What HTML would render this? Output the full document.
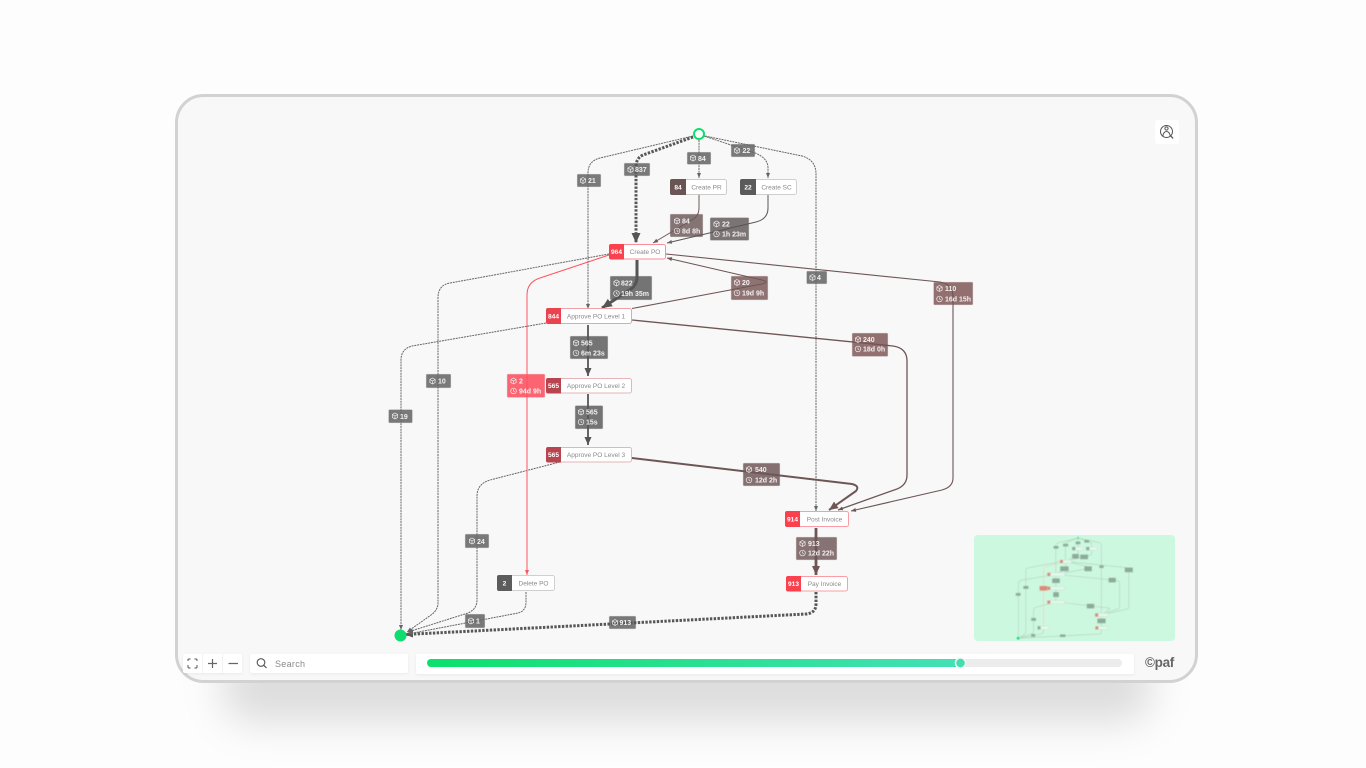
<!DOCTYPE html>
<html lang="en"><head><meta charset="utf-8"><title>Process map</title>
<style>
html,body{margin:0;padding:0;width:1366px;height:768px;overflow:hidden;background:#fdfdfd}
svg{display:block;font-family:"Liberation Sans",sans-serif}
.e{fill:none;stroke-linejoin:round}
.d{stroke:#666;stroke-width:1;stroke-dasharray:2 .8}
.t{stroke:#575757;stroke-width:3;stroke-dasharray:2.4 1.4}
.b{stroke:#6f5656}
.n{font-size:6.500px;fill:#8a8a8a;text-anchor:middle}
.c{font-size:6.600px;font-weight:bold;fill:#fff;text-anchor:middle}
.l{font-size:7px;font-weight:bold;fill:#f4f0f0}
.ic{fill:none;stroke:#f2eeee;stroke-width:.7}
.m path{fill:none;stroke:#b4d6c1;stroke-width:3.500}
</style></head><body>
<svg width="1366" height="768" viewBox="0 0 1366 768" xmlns="http://www.w3.org/2000/svg">
<defs>
<filter id="sh" x="-20%" y="-100%" width="140%" height="300%"><feGaussianBlur stdDeviation="20"/></filter>
<filter id="mb" x="-5%" y="-5%" width="110%" height="110%"><feGaussianBlur stdDeviation=".5"/></filter>
<filter id="ws" x="-20%" y="-50%" width="140%" height="200%"><feDropShadow dx="0" dy="1" stdDeviation="1.500" flood-color="#000" flood-opacity=".06"/></filter>
<linearGradient id="gr" x1="0" x2="1" y1="0" y2="0"><stop offset="0" stop-color="#0ce06c"/><stop offset="1" stop-color="#44e0b6"/></linearGradient>
<marker id="ga" markerUnits="userSpaceOnUse" markerWidth="5" markerHeight="5" viewBox="0 0 5 5" refX="5" refY="2.500" orient="auto"><path d="M0 .5L5 2.500L0 4.500z" fill="#666"/></marker>
<marker id="gb" markerUnits="userSpaceOnUse" markerWidth="10" markerHeight="10" viewBox="0 0 10 10" refX="10" refY="5" orient="auto"><path d="M0 .5L10 5L0 9.500z" fill="#555"/></marker>
<marker id="gm" markerUnits="userSpaceOnUse" markerWidth="8" markerHeight="8" viewBox="0 0 8 8" refX="8" refY="4" orient="auto"><path d="M0 .5L8 4L0 7.500z" fill="#555"/></marker>
<marker id="bs" markerUnits="userSpaceOnUse" markerWidth="5" markerHeight="5" viewBox="0 0 5 5" refX="5" refY="2.500" orient="auto"><path d="M0 .5L5 2.500L0 4.500z" fill="#6f5656"/></marker>
<marker id="bb" markerUnits="userSpaceOnUse" markerWidth="9" markerHeight="9" viewBox="0 0 9 9" refX="9" refY="4.500" orient="auto"><path d="M0 .5L9 4.500L0 8.500z" fill="#6f5656"/></marker>
<marker id="rd" markerUnits="userSpaceOnUse" markerWidth="5" markerHeight="5" viewBox="0 0 5 5" refX="5" refY="2.500" orient="auto"><path d="M0 .5L5 2.500L0 4.500z" fill="#fb5561"/></marker>
<g id="cu" class="ic"><path d="M0-3L2.600-1.500V1.500L0 3L-2.600 1.500V-1.500z"/><path d="M-2.600-1.500L0 0L2.600-1.500M0 0V3"/></g>
<g id="cl" class="ic"><circle r="2.800"/><path d="M0-1.600V0L1.200 .8"/></g>
</defs>

<!-- drop shadow -->
<rect x="222" y="650" width="930" height="72" rx="30" fill="#000" fill-opacity=".13" filter="url(#sh)"/>
<!-- frame -->
<rect x="176.500" y="95.500" width="1020" height="586" rx="27" fill="#f8f8f8" stroke="#d2d2d2" stroke-width="3"/>

<!-- label backgrounds -->
<g fill="#727272" fill-opacity=".95" stroke="#e4e4e4" stroke-width=".5">
<rect x="577" y="174" width="24" height="13" rx="1"/><rect x="624" y="163" width="26" height="13" rx="1"/>
<rect x="687" y="152" width="24" height="12.500" rx="1"/><rect x="731" y="144" width="24" height="13" rx="1"/>
<rect x="806.500" y="271" width="20.500" height="13" rx="1"/><rect x="426" y="374" width="25" height="14" rx="1"/>
<rect x="388.500" y="409.500" width="24" height="13.500" rx="1"/><rect x="465" y="534" width="24" height="14" rx="1"/>
<rect x="465" y="614" width="20" height="14" rx="1"/><rect x="609" y="616" width="27" height="13" rx="1"/>
</g>
<g stroke="#e4e0e0" stroke-width=".5">
<rect x="670" y="214" width="33" height="23" rx="1" fill="#847474"/>
<rect x="710" y="217.500" width="39" height="23" rx="1" fill="#7a7474"/>
<rect x="610" y="276" width="42" height="24" rx="1" fill="#747474"/>
<rect x="731" y="276" width="37" height="24" rx="1" fill="#8f7373"/>
<rect x="933.500" y="282" width="39.500" height="23" rx="1" fill="#927070"/>
<rect x="852" y="333" width="36" height="23.500" rx="1" fill="#927070"/>
<rect x="570" y="336" width="38" height="23" rx="1" fill="#747474"/>
<rect x="507" y="374" width="38" height="23.500" rx="1" fill="#fb6470"/>
<rect x="575" y="405.500" width="28" height="23.500" rx="1" fill="#747474"/>
<rect x="743" y="463" width="37" height="23" rx="1" fill="#847070"/>
<rect x="796" y="537" width="41" height="23" rx="1" fill="#877373"/>
</g>

<!-- edges -->
<g>
<path class="e d" marker-end="url(#ga)" d="M693 136L600 158Q588 161 588 173V309"/>
<path class="e t" marker-end="url(#gb)" d="M693 137L643 155Q636 158 636 167V243"/>
<path class="e d" marker-end="url(#ga)" d="M699 140V178"/>
<path class="e d" marker-end="url(#ga)" d="M704 136L755 153Q768 158 768 168V178"/>
<path class="e d" marker-end="url(#ga)" d="M705 136L802 156Q816 160 816 174V511"/>
<path class="e b" stroke-width="1" marker-end="url(#bs)" d="M699 195V208Q699 217 690 221L653 243"/>
<path class="e" stroke="#5c5555" stroke-width="1" marker-end="url(#ga)" d="M768 195V208Q768 219 756 222L667 243"/>
<path class="e" stroke="#555" stroke-width="3" marker-end="url(#gb)" d="M637 260V277Q637 286 628 291L602 308"/>
<path class="e b" stroke-width="1" marker-end="url(#bs)" d="M632 308.500L762 284Q770 282 762 280L667 258"/>
<path class="e b" stroke-width="1.100" marker-end="url(#bs)" d="M666 254L940 282Q953 284 953 297V478Q953 487 942 490L851 511"/>
<path class="e b" stroke-width="1.300" marker-end="url(#bs)" d="M632 320L893 346Q907 348 907 361V475Q907 485 897 489L838 510"/>
<path class="e b" stroke-width="2" marker-end="url(#bb)" d="M632 458L852 484Q860 486 856 491L829 510"/>
<path class="e b" stroke-width="2.800" marker-end="url(#bb)" d="M816 528V575"/>
<path class="e t" marker-end="url(#gm)" d="M816 592V604Q816 613 806 614L405 634.500"/>
<path class="e d" marker-end="url(#ga)" d="M609 254L450 283Q438 285 438 298V603Q438 610 431 615L407 632"/>
<path class="e d" marker-end="url(#ga)" d="M546 323L412 346Q401 349 401 360V630"/>
<path class="e d" stroke-width=".9" marker-end="url(#ga)" d="M560 462L490 480Q477 484 477 496V600Q477 609 468 613L408 632"/>
<path class="e d" stroke-width=".9" marker-end="url(#ga)" d="M526 592V602Q526 611 518 613L408 634"/>
<path class="e" stroke="#fb5561" stroke-width="1" marker-end="url(#rd)" d="M609 255L540 278Q527 282 527 295V575"/>
<path class="e" stroke="#555" stroke-width="1.800" marker-end="url(#gm)" d="M588 325V376"/>
<path class="e" stroke="#555" stroke-width="1.800" marker-end="url(#gm)" d="M588 394V445"/>
</g>

<!-- start / end -->
<circle cx="699" cy="134" r="5" fill="#fff" stroke="#0ce06c" stroke-width="2"/>
<circle cx="400.500" cy="635.500" r="6" fill="#0fdd70"/>

<!-- nodes -->
<rect x="670.500" y="179.500" width="56" height="15" rx="2" fill="#fff" stroke="#cfcaca"/><path d="M672 179h14v16h-14a2 2 0 0 1-2-2v-12a2 2 0 0 1 2-2z" fill="#6a5555"/><text class="c" x="678" y="189.500">84</text><text class="n" x="706.500" y="189.500">Create PR</text>
<rect x="740.500" y="179.500" width="56" height="15" rx="2" fill="#fff" stroke="#cfcfcf"/><path d="M742 179h14v16h-14a2 2 0 0 1-2-2v-12a2 2 0 0 1 2-2z" fill="#5b5b5b"/><text class="c" x="748" y="189.500">22</text><text class="n" x="776.500" y="189.500">Create SC</text>
<rect x="609.500" y="244.500" width="56" height="14.500" rx="2" fill="#fff" stroke="#fb8f98"/><path d="M611 244h13v15.500h-13a2 2 0 0 1-2-2v-11.500a2 2 0 0 1 2-2z" fill="#fb404e"/><text class="c" x="616.500" y="254">964</text><text class="n" x="645" y="254">Create PO</text>
<rect x="546.500" y="308.500" width="85" height="15" rx="2" fill="#fff" stroke="#f0a0a6"/><path d="M548 308h13v16h-13a2 2 0 0 1-2-2v-12a2 2 0 0 1 2-2z" fill="#ea4350"/><text class="c" x="553.500" y="318.500">844</text><text class="n" x="596" y="318.500">Approve PO Level 1</text>
<rect x="546.500" y="378.500" width="85" height="14.500" rx="2" fill="#fff" stroke="#e6b4b8"/><path d="M548 378h13v15.500h-13a2 2 0 0 1-2-2v-11.500a2 2 0 0 1 2-2z" fill="#b84450"/><text class="c" x="553.500" y="388">565</text><text class="n" x="596" y="388">Approve PO Level 2</text>
<rect x="546.500" y="447.500" width="85" height="14.500" rx="2" fill="#fff" stroke="#e6b4b8"/><path d="M548 447h13v15.500h-13a2 2 0 0 1-2-2v-11.500a2 2 0 0 1 2-2z" fill="#b84450"/><text class="c" x="553.500" y="457">565</text><text class="n" x="596" y="457">Approve PO Level 3</text>
<rect x="497.500" y="575.500" width="57" height="15" rx="2" fill="#fff" stroke="#cfcfcf"/><path d="M499 575h13v16h-13a2 2 0 0 1-2-2v-12a2 2 0 0 1 2-2z" fill="#5c5c5c"/><text class="c" x="504.500" y="585.500">2</text><text class="n" x="533.500" y="585.500">Delete PO</text>
<rect x="785.500" y="511.500" width="63" height="15" rx="2" fill="#fff" stroke="#fb9da4"/><path d="M787 511h13v16h-13a2 2 0 0 1-2-2v-12a2 2 0 0 1 2-2z" fill="#fb404e"/><text class="c" x="792.500" y="521.500">914</text><text class="n" x="824.500" y="521.500">Post Invoice</text>
<rect x="786.500" y="576.500" width="61" height="14.500" rx="2" fill="#fff" stroke="#fb9da4"/><path d="M788 576h13v15.500h-13a2 2 0 0 1-2-2v-11.500a2 2 0 0 1 2-2z" fill="#fb404e"/><text class="c" x="793.500" y="586">913</text><text class="n" x="824.500" y="586">Pay Invoice</text>

<!-- label icons -->
<use href="#cu" x="583" y="180.500"/><use href="#cu" x="630.500" y="169.500"/><use href="#cu" x="693" y="158"/><use href="#cu" x="737" y="150.500"/>
<use href="#cu" x="812.500" y="277.500"/><use href="#cu" x="432.500" y="381"/><use href="#cu" x="395" y="416"/><use href="#cu" x="472" y="541"/>
<use href="#cu" x="471" y="621"/><use href="#cu" x="615" y="622.500"/>
<use href="#cu" x="677" y="221"/><use href="#cl" x="677" y="231"/>
<use href="#cu" x="716.500" y="224"/><use href="#cl" x="716.500" y="234"/>
<use href="#cu" x="616.500" y="283"/><use href="#cl" x="616.500" y="293.500"/>
<use href="#cu" x="737" y="282.500"/><use href="#cl" x="737" y="293"/>
<use href="#cu" x="939.500" y="288.500"/><use href="#cl" x="939.500" y="299"/>
<use href="#cu" x="858" y="339.500"/><use href="#cl" x="858" y="349"/>
<use href="#cu" x="576" y="343"/><use href="#cl" x="576" y="353"/>
<use href="#cu" x="513.500" y="381"/><use href="#cl" x="513.500" y="391"/>
<use href="#cu" x="581" y="412"/><use href="#cl" x="581" y="422"/>
<use href="#cu" x="749" y="469.500"/><use href="#cl" x="749" y="480"/>
<use href="#cu" x="802.500" y="543.500"/><use href="#cl" x="802.500" y="553"/>
<!-- label text -->
<g class="l">
<text x="588" y="183">21</text><text x="635" y="172">837</text><text x="698" y="161">84</text><text x="742.500" y="153">22</text>
<text x="817" y="280">4</text><text x="438" y="383.500">10</text><text x="400" y="419">19</text><text x="477" y="544">24</text>
<text x="476" y="623.500">1</text><text x="619.500" y="625">913</text>
<text x="682" y="223.500">84</text><text x="682" y="233.500">8d 8h</text>
<text x="722" y="226.500">22</text><text x="722" y="236.500">1h 23m</text>
<text x="621" y="285.500">822</text><text x="621" y="296">19h 35m</text>
<text x="742" y="285">20</text><text x="742" y="295.500">19d 9h</text>
<text x="945" y="291">110</text><text x="945" y="301.500">16d 15h</text>
<text x="863" y="342">240</text><text x="863" y="351.500">18d 0h</text>
<text x="581" y="345.500">565</text><text x="581" y="355.500">6m 23s</text>
<text x="519" y="383.500">2</text><text x="519" y="393.500">94d 9h</text>
<text x="586" y="414.500">565</text><text x="586" y="424.500">15s</text>
<text x="755" y="472">540</text><text x="755" y="482.500">12d 2h</text>
<text x="808" y="546">913</text><text x="808" y="555.500">12d 22h</text>
</g>

<!-- top-right button -->
<rect x="1155" y="120" width="24" height="24" rx="3" fill="#fff"/>
<g fill="none" stroke="#555" stroke-width="1">
<circle cx="1166.500" cy="131.500" r="6"/><circle cx="1166.500" cy="128.500" r="1.600"/>
<path d="M1162.800 136.300Q1163.500 131.500 1166.500 131.500T1170.300 136.300"/><path d="M1170.500 135.500L1173 138.500" stroke-width="1.300"/>
</g>

<!-- minimap -->
<rect x="974" y="535" width="201" height="106" rx="4" fill="#cdf8e0"/>
<g filter="url(#mb)"><g class="m" transform="translate(938.200 511.200) scale(.2)">
<path d="M693 136L600 158Q588 161 588 173V309"/>
<path d="M693 137L643 155Q636 158 636 167V243"/>
<path d="M699 140V178"/>
<path d="M704 136L755 153Q768 158 768 168V178"/>
<path d="M705 136L802 156Q816 160 816 174V511"/>
<path d="M699 195V208Q699 217 690 221L653 243"/>
<path d="M768 195V208Q768 219 756 222L667 243"/>
<path d="M637 260V277Q637 286 628 291L602 308"/>
<path d="M632 308.500L762 284Q770 282 762 280L667 258"/>
<path d="M666 254L940 282Q953 284 953 297V478Q953 487 942 490L851 511"/>
<path d="M632 320L893 346Q907 348 907 361V475Q907 485 897 489L838 510"/>
<path d="M632 458L852 484Q860 486 856 491L829 510"/>
<path d="M816 528V575"/>
<path d="M816 592V604Q816 613 806 614L405 634.500"/>
<path d="M609 254L450 283Q438 285 438 298V603Q438 610 431 615L407 632"/>
<path d="M546 323L412 346Q401 349 401 360V630"/>
<path d="M560 462L490 480Q477 484 477 496V600Q477 609 468 613L408 632"/>
<path d="M526 592V602Q526 611 518 613L408 634"/>
<path style="stroke:#e8d2c2" d="M609 255L540 278Q527 282 527 295V575"/>
<path d="M588 325V376"/><path d="M588 394V445"/>
<g fill="#e4f8ec" stroke="#c0dccb" stroke-width="2">
<rect x="670" y="179" width="57" height="16"/><rect x="740" y="179" width="57" height="16"/><rect x="609" y="244" width="57" height="15"/>
<rect x="546" y="308" width="86" height="16"/><rect x="546" y="378" width="86" height="15"/><rect x="546" y="447" width="86" height="15"/>
<rect x="497" y="575" width="58" height="16"/><rect x="785" y="511" width="64" height="16"/><rect x="786" y="576" width="62" height="15"/>
</g>
<g fill="#8dab99">
<rect x="670" y="179" width="16" height="16"/><rect x="740" y="179" width="16" height="16"/><rect x="497" y="575" width="15" height="16"/>
<rect x="577" y="174" width="24" height="13"/><rect x="624" y="163" width="26" height="13"/><rect x="687" y="152" width="24" height="13"/><rect x="731" y="144" width="24" height="13"/>
<rect x="806" y="271" width="21" height="13"/><rect x="426" y="374" width="25" height="14"/><rect x="388" y="409" width="24" height="14"/><rect x="465" y="534" width="24" height="14"/>
<rect x="465" y="614" width="20" height="14"/><rect x="609" y="616" width="27" height="13"/>
<rect x="670" y="214" width="33" height="23"/><rect x="710" y="217" width="39" height="23"/><rect x="610" y="276" width="42" height="24"/><rect x="731" y="276" width="37" height="24"/>
<rect x="933" y="282" width="40" height="23"/><rect x="852" y="333" width="36" height="23"/><rect x="570" y="336" width="38" height="23"/><rect x="575" y="405" width="28" height="24"/>
<rect x="743" y="463" width="37" height="23"/><rect x="796" y="537" width="41" height="23"/>
</g>
<g fill="#dc8a78">
<rect x="609" y="244" width="15" height="15"/><rect x="546" y="308" width="15" height="16"/><rect x="546" y="378" width="15" height="15"/><rect x="546" y="447" width="15" height="15"/>
<rect x="785" y="511" width="15" height="16"/><rect x="786" y="576" width="15" height="15"/><rect x="507" y="374" width="38" height="23"/>
</g>
<circle cx="699" cy="134" r="6" fill="#5fe89a"/><circle cx="400" cy="635" r="7" fill="#17dd74"/>
</g></g>

<!-- toolbar -->
<g filter="url(#ws)">
<rect x="183" y="654" width="59" height="19" rx="2" fill="#fff"/>
<rect x="250" y="654" width="158" height="19" rx="2" fill="#fff"/>
<rect x="416" y="654" width="718" height="20" rx="2" fill="#fff"/>
</g>
<path d="M202.500 654V673M222.500 654V673" stroke="#f3f3f3"/>
<path d="M188 661V659.500Q188 659 189 659H190.500M194.500 659H196Q197 659 197 660V661M197 665V667Q197 668 196 668H194.500M190.500 668H189Q188 668 188 667V665" fill="none" stroke="#555" stroke-width="1"/>
<path d="M208 663.500H217M212.500 659V668M228.500 663.500H238" fill="none" stroke="#666" stroke-width="1.200"/>
<circle cx="261" cy="662.500" r="3.800" fill="none" stroke="#555" stroke-width="1.100"/><path d="M263.800 665.300L266.500 668" stroke="#555" stroke-width="1.200"/>
<text x="275" y="667" font-size="9" fill="#8a8a8a" letter-spacing=".3">Search</text>
<rect x="427" y="659" width="695" height="8" rx="4" fill="#ececec"/>
<rect x="427" y="659" width="534" height="8" rx="4" fill="url(#gr)"/>
<circle cx="960.500" cy="663" r="5" fill="#3fe0b0" stroke="#f4f4f4" stroke-width="1.500"/>
<text x="1145" y="667" font-size="13.500" font-weight="bold" fill="#666" letter-spacing="-.3">©paf</text>
</svg>
</body></html>
